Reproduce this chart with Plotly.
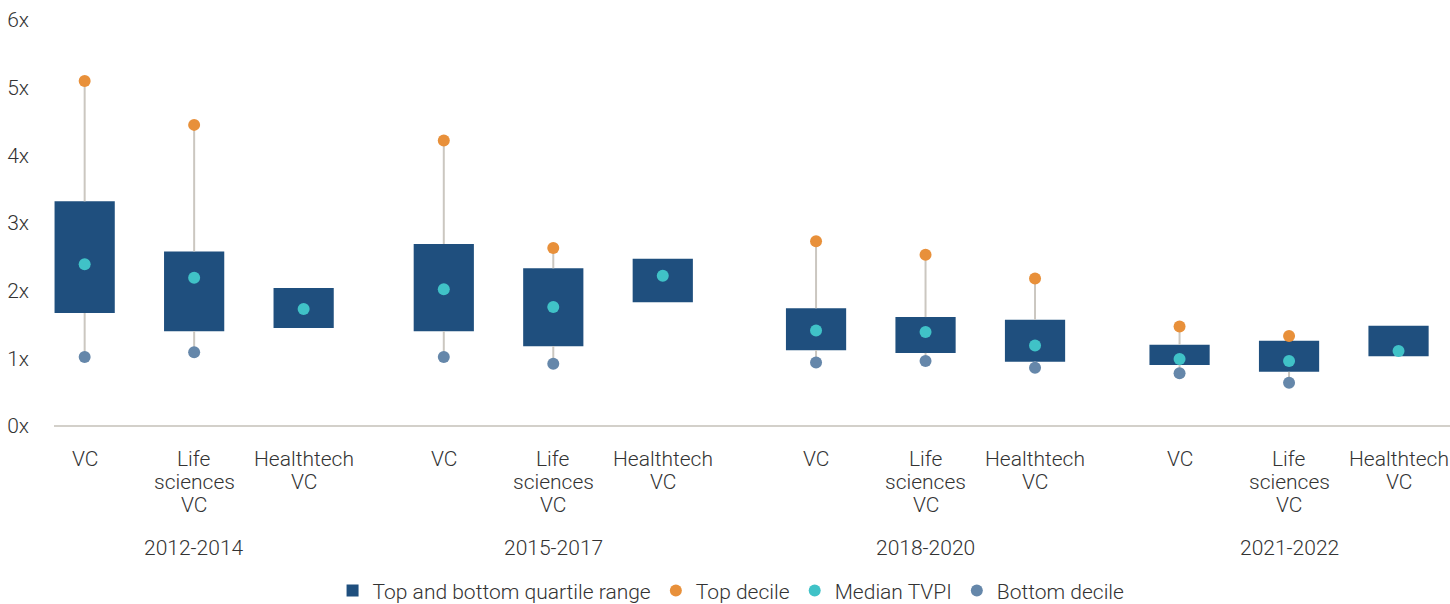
import plotly.graph_objects as go

periods = ["2012-2014", "2015-2017", "2018-2020", "2021-2022"]
strategies = [["VC"], ["Life", "sciences", "VC"], ["Healthtech", "VC"]]

# values per period, in strategy order (VC, Life sciences VC, Healthtech VC)
top_decile = [5.10, 4.45, None, 4.22, 2.63, None, 2.73, 2.53, 2.18, 1.47, 1.33, None]
upper_quartile = [3.32, 2.58, 2.04, 2.69, 2.33, 2.47, 1.74, 1.61, 1.57, 1.20, 1.26, 1.48]
median_tvpi = [2.39, 2.19, 1.73, 2.02, 1.76, 2.22, 1.41, 1.39, 1.19, 0.99, 0.96, 1.11]
lower_quartile = [1.67, 1.40, 1.45, 1.40, 1.18, 1.83, 1.12, 1.08, 0.95, 0.90, 0.80, 1.03]
bottom_decile = [1.02, 1.09, None, 1.02, 0.92, None, 0.94, 0.96, 0.86, 0.78, 0.64, None]

y_ticks = [0, 1, 2, 3, 4, 5, 6]
y_tick_text = ["0x", "1x", "2x", "3x", "4x", "5x", "6x"]

NAVY = "#1f4f7e"
ORANGE = "#e8903a"
TEAL = "#40c2c7"
SLATE = "#6587aa"
WHISKER = "#cbc7c0"
TEXT = "#333333"
FONT = "Roboto, sans-serif"

# extra space between period groups (in category widths)
group_gaps = [1.28, 1.40, 1.32]
group_start = [0]
for gap in group_gaps:
    group_start.append(group_start[-1] + 2 + gap)

x_pos = []
labels = []
for g, p in enumerate(periods):
    for i, s in enumerate(strategies):
        x_pos.append(group_start[g] + i)
        labels.append(s)

# whisker segments: top decile -> upper quartile, lower quartile -> bottom decile
wx, wy = [], []
for x, td, uq, lq, bd in zip(x_pos, top_decile, upper_quartile, lower_quartile, bottom_decile):
    if td is not None:
        wx += [x, x, None]
        wy += [td, uq, None]
    if bd is not None:
        wx += [x, x, None]
        wy += [lq, bd, None]

fig = go.Figure()
fig.add_trace(go.Scatter(x=wx, y=wy, mode="lines", line=dict(color=WHISKER, width=2),
                         showlegend=False, hoverinfo="skip"))
fig.add_trace(go.Bar(x=x_pos, y=[u - l for u, l in zip(upper_quartile, lower_quartile)],
                     base=lower_quartile, width=0.55, marker=dict(color=NAVY, line_width=0),
                     name="Top and bottom quartile range"))
fig.add_trace(go.Scatter(x=x_pos, y=top_decile, mode="markers", name="Top decile",
                         marker=dict(color=ORANGE, size=12)))
fig.add_trace(go.Scatter(x=x_pos, y=median_tvpi, mode="markers", name="Median TVPI",
                         marker=dict(color=TEAL, size=12)))
fig.add_trace(go.Scatter(x=x_pos, y=bottom_decile, mode="markers", name="Bottom decile",
                         marker=dict(color=SLATE, size=12)))

# category labels, one annotation per line so the line spacing stays tight
for x, lines in zip(x_pos, labels):
    for k, line in enumerate(lines):
        fig.add_annotation(x=x, y=0, xref="x", yref="y", text=line, showarrow=False,
                           yanchor="middle", yshift=-33 - 23 * k,
                           font=dict(family=FONT, size=21, color=TEXT, weight=300))

for g, p in enumerate(periods):
    fig.add_annotation(x=group_start[g] + 1, y=-0.30, xref="x", yref="paper",
                       text=p, showarrow=False, yanchor="middle",
                       font=dict(family=FONT, size=21, color=TEXT, weight=300))

fig.update_layout(
    width=1450, height=604,
    margin=dict(l=54, r=0, t=20, b=178, autoexpand=False),
    plot_bgcolor="white", paper_bgcolor="white",
    font=dict(family=FONT, size=21, color=TEXT, weight=300),
    barmode="overlay",
    legend=dict(orientation="h", x=0.485, xanchor="center", y=-0.406, yanchor="middle",
                font=dict(size=21, weight=300), itemwidth=30, traceorder="normal"),
    xaxis=dict(range=[-0.28, 12.47], showticklabels=False, showgrid=False,
               zeroline=False, showline=False, ticks="", automargin=False),
    yaxis=dict(range=[0, 6], tickvals=y_ticks, ticktext=y_tick_text, showgrid=False,
               zeroline=True, zerolinecolor="#d3d0ca", zerolinewidth=2, showline=False,
               ticklabelstandoff=24, automargin=False),
)

# drop the browser's default body margin so the figure fills the window exactly
fig.write_html("out.html", config={"displayModeBar": False},
               post_script="document.body.style.margin='0';")
